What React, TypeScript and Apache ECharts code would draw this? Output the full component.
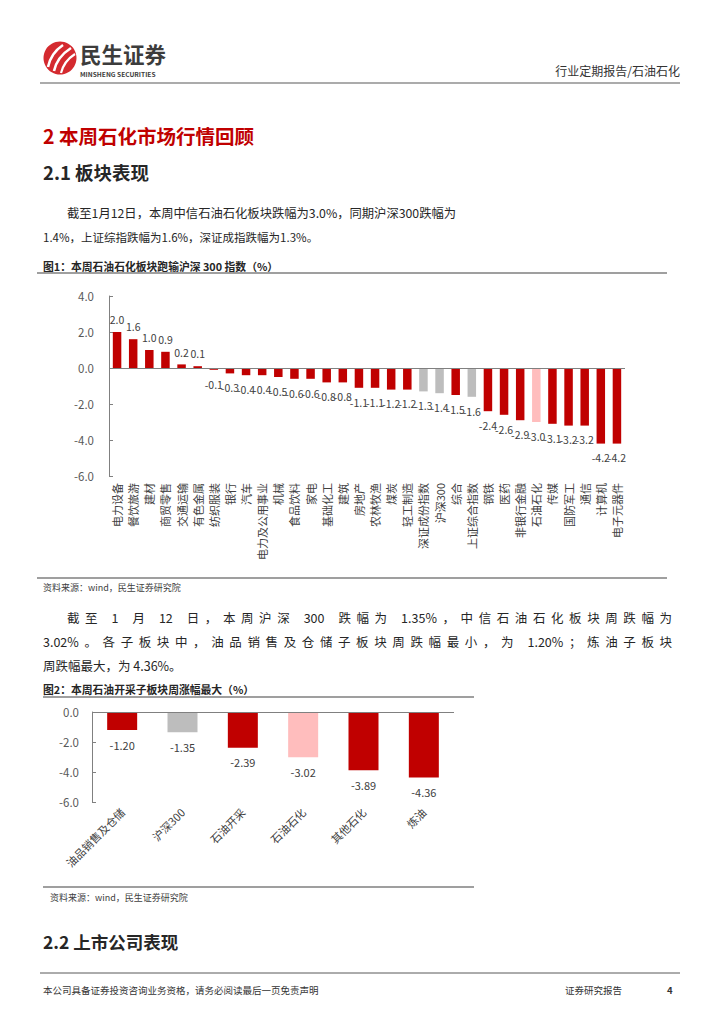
import React, { useEffect, useRef } from "react";
import * as echarts from "echarts";

// ---------- data ----------
const sectors = [
  "电力设备", "餐饮旅游", "建材", "商贸零售", "交通运输", "有色金属", "纺织服装", "银行",
  "汽车", "电力及公用事业", "机械", "食品饮料", "家电", "基础化工", "建筑", "房地产",
  "农林牧渔", "煤炭", "轻工制造", "深证成份指数", "沪深300", "综合", "上证综合指数", "钢铁",
  "医药", "非银行金融", "石油石化", "传媒", "国防军工", "通信", "计算机", "电子元器件",
];
const sectorValues = [
  2.0, 1.6, 1.0, 0.9, 0.2, 0.1, -0.1, -0.3,
  -0.4, -0.4, -0.5, -0.6, -0.6, -0.8, -0.8, -1.1,
  -1.1, -1.2, -1.2, -1.3, -1.4, -1.5, -1.6, -2.4,
  -2.6, -2.9, -3.0, -3.1, -3.2, -3.2, -4.2, -4.2,
];
const indexNames = ["深证成份指数", "沪深300", "上证综合指数"];
const highlightNames = ["石油石化"];

const subSectors = ["油品销售及仓储", "沪深300", "石油开采", "石油石化", "其他石化", "炼油"];
const subValues = [-1.2, -1.35, -2.39, -3.02, -3.89, -4.36];

const chart1Axis = { min: -6, max: 4, interval: 2 };
const chart2Axis = { min: -6, max: 0, interval: 2 };

// ---------- styles ----------
const FONT = '"Noto Sans CJK SC", "Noto Sans", sans-serif';
const RED = "#C00000";
const GRAY = "#BDBDBD";
const PINK = "#FFBDBD";
const colorFor = (name: string) =>
  indexNames.includes(name) ? GRAY : highlightNames.includes(name) ? PINK : RED;

let measureCtx: CanvasRenderingContext2D | null = null;
function measure(s: string, size: number, weight = "normal") {
  if (!measureCtx) measureCtx = document.createElement("canvas").getContext("2d");
  if (!measureCtx) return s.length * size;
  measureCtx.font = `${weight} ${size}px ${FONT}`;
  return measureCtx.measureText(s).width;
}

function txt(text: string, x: number, y: number, size: number, opts: any = {}) {
  return {
    type: "text",
    x,
    y,
    silent: true,
    style: {
      text,
      fontSize: size,
      fontFamily: FONT,
      fontWeight: opts.weight || "normal",
      fill: opts.color || "#262626",
      align: opts.align || "left",
      verticalAlign: "middle",
    },
  };
}

// split a line into tokens: every CJK char alone, ascii runs grouped, spaces alone
function tokenize(s: string) {
  const out: string[] = [];
  let run = "";
  for (const ch of Array.from(s)) {
    const ascii = ch.charCodeAt(0) < 128 && ch !== " ";
    if (ascii) {
      run += ch;
    } else {
      if (run) out.push(run);
      run = "";
      out.push(ch);
    }
  }
  if (run) out.push(run);
  return out;
}

function justify(line: string, x0: number, x1: number, y: number, size: number, color = "#262626") {
  const tokens = tokenize(line);
  const natural = measure(line, size);
  const extra = tokens.length > 1 ? (x1 - x0 - natural) / (tokens.length - 1) : 0;
  const out: any[] = [];
  let prefix = "";
  tokens.forEach((t, i) => {
    if (t.trim().length > 0) {
      const x = x0 + measure(prefix, size) + extra * i;
      out.push(txt(t, x, y, size, { color }));
    }
    prefix += t;
  });
  return out;
}

function hline(x1: number, x2: number, y: number, color: string, w: number) {
  return {
    type: "line",
    silent: true,
    shape: { x1, y1: y, x2, y2: y },
    style: { stroke: color, lineWidth: w },
  };
}

export default function App() {
  const ref = useRef<HTMLDivElement>(null);

  useEffect(() => {
    if (!ref.current) return;
    const chart = echarts.init(ref.current, undefined, { renderer: "svg" });

    const graphics: any[] = [
      // logo
      { type: "circle", silent: true, shape: { cx: 60, cy: 58, r: 16.5 }, style: { fill: "#D42A2F" } },
      { type: "bezierCurve", silent: true, shape: { x1: 48, y1: 67, x2: 63, y2: 45, cpx1: 51, cpy1: 53 }, style: { stroke: "#fff", lineWidth: 2.6, fill: null } },
      { type: "bezierCurve", silent: true, shape: { x1: 54, y1: 71, x2: 71, y2: 48, cpx1: 57, cpy1: 57 }, style: { stroke: "#fff", lineWidth: 2.6, fill: null } },
      { type: "bezierCurve", silent: true, shape: { x1: 61, y1: 73, x2: 75, y2: 54, cpx1: 64, cpy1: 61 }, style: { stroke: "#fff", lineWidth: 2.2, fill: null } },
      txt("民生证券", 80, 53, 21.5, { weight: "bold", color: "#3c3c3c" }),
      txt("MINSHENG SECURITIES", 80, 73.5, 6.6, { weight: "bold", color: "#3c3c3c" }),
      txt("行业定期报告/石油石化", 680, 70, 12, { align: "right", color: "#333" }),
      hline(40, 680, 83, "#595959", 1.2),

      txt("2 本周石化市场行情回顾", 43, 135, 19.5, { weight: "bold", color: RED }),
      txt("2.1 板块表现", 43, 172, 18.5, { weight: "bold", color: "#262626" }),
      txt("截至1月12日，本周中信石油石化板块跌幅为3.0%，同期沪深300跌幅为", 67, 213, 12.3),
      txt("1.4%，上证综指跌幅为1.6%，深证成指跌幅为1.3%。", 43, 237, 11.5),

      txt("图1：本周石油石化板块跑输沪深 300 指数（%）", 43, 266, 10.8, { weight: "bold", color: "#262626" }),
      hline(37, 667, 273, "#7f7f7f", 1.5),
      hline(37, 667, 578, "#7f7f7f", 1.5),
      txt("资料来源：wind，民生证券研究院", 43, 587, 9, { color: "#404040" }),

      ...justify("截至 1 月 12 日，本周沪深 300 跌幅为 1.35%，中信石油石化板块周跌幅为", 67, 672, 617, 12.5),
      ...justify("3.02%。各子板块中，油品销售及仓储子板块周跌幅最小，为 1.20%；炼油子板块", 43, 672, 641, 12.5),
      txt("周跌幅最大，为 4.36%。", 43, 665, 12.5),

      txt("图2：本周石油开采子板块周涨幅最大（%）", 43, 689, 10.8, { weight: "bold", color: "#262626" }),
      hline(43, 474, 697, "#7f7f7f", 1.5),
      hline(43, 474, 887, "#7f7f7f", 1.5),
      txt("资料来源：wind，民生证券研究院", 50, 897, 9, { color: "#404040" }),

      txt("2.2 上市公司表现", 43, 941, 17.5, { weight: "bold", color: "#262626" }),

      hline(40, 680, 973, "#595959", 1),
      txt("本公司具备证券投资咨询业务资格，请务必阅读最后一页免责声明", 43, 990, 9.5, { color: "#333" }),
      txt("证券研究报告", 565, 990, 9.5, { color: "#333" }),
      txt("4", 667, 990, 9.5, { weight: "bold", color: "#333" }),
    ];

    const axisGray = "#808080";
    const yAxisCommon = {
      type: "value",
      axisLine: { show: true, lineStyle: { color: axisGray, width: 1 } },
      axisTick: { show: true, inside: true, length: 4, lineStyle: { color: axisGray } },
      splitLine: { show: false },
    };
    const zeroLine = {
      silent: true,
      symbol: ["none", "none"],
      label: { show: false },
      lineStyle: { color: axisGray, type: "solid", width: 1 },
      data: [{ yAxis: 0 }],
    };

    chart.setOption({
      animation: false,
      textStyle: { fontFamily: FONT },
      grid: [
        { left: 109, top: 296, width: 516, height: 180 },
        { left: 92, top: 712, width: 362, height: 90 },
      ],
      xAxis: [
        {
          type: "category",
          gridIndex: 0,
          data: sectors,
          axisLine: { show: false, onZero: false },
          axisTick: { show: false },
          axisLabel: { interval: 0, rotate: 90, fontSize: 11, color: "#404040", margin: 7, fontFamily: FONT },
        },
        {
          type: "category",
          gridIndex: 1,
          data: subSectors,
          axisLine: { show: false, onZero: false },
          axisTick: { show: false },
          axisLabel: { interval: 0, rotate: 45, fontSize: 11, color: "#404040", margin: 8, fontFamily: FONT },
        },
      ],
      yAxis: [
        {
          ...yAxisCommon,
          gridIndex: 0,
          min: chart1Axis.min,
          max: chart1Axis.max,
          interval: chart1Axis.interval,
          axisLabel: { formatter: (v: number) => v.toFixed(1), fontSize: 11.5, color: "#595959", margin: 15, fontFamily: FONT },
        },
        {
          ...yAxisCommon,
          gridIndex: 1,
          min: chart2Axis.min,
          max: chart2Axis.max,
          interval: chart2Axis.interval,
          axisLabel: { formatter: (v: number) => v.toFixed(1), fontSize: 11.5, color: "#595959", margin: 13, fontFamily: FONT },
        },
      ],
      series: [
        {
          type: "bar",
          xAxisIndex: 0,
          yAxisIndex: 0,
          barWidth: 8.5,
          data: sectorValues.map((v, i) => ({
            value: v,
            itemStyle: { color: colorFor(sectors[i]) },
            label: { position: v >= 0 ? "top" : "bottom", distance: v >= 0 ? 7 : 9 },
          })),
          label: {
            show: true,
            formatter: (p: any) => Number(p.value).toFixed(1),
            fontSize: 10.5,
            color: "#404040",
            fontFamily: FONT,
          },
          markLine: zeroLine,
        },
        {
          type: "bar",
          xAxisIndex: 1,
          yAxisIndex: 1,
          barWidth: 30,
          data: subValues.map((v, i) => ({
            value: v,
            itemStyle: { color: colorFor(subSectors[i]) },
          })),
          label: {
            show: true,
            position: "bottom",
            distance: 9,
            formatter: (p: any) => Number(p.value).toFixed(2),
            fontSize: 11,
            color: "#404040",
            fontFamily: FONT,
          },
          markLine: zeroLine,
        },
      ],
      graphic: { elements: graphics },
    });

    return () => chart.dispose();
  }, []);

  return (
    <div
      ref={ref}
      style={{ position: "absolute", left: 0, top: 0, width: 724, height: 1024, background: "#fff" }}
    />
  );
}
